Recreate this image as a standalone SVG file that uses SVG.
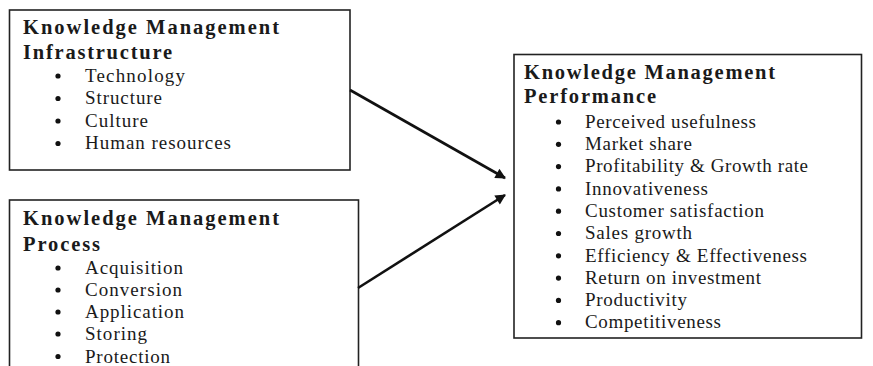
<svg xmlns="http://www.w3.org/2000/svg" width="873" height="366" viewBox="0 0 873 366">
<style>
.box{fill:#fff;stroke:#222;stroke-width:1.6}
.t{font-family:"Liberation Serif","Times New Roman",serif;font-size:20.5px;font-weight:bold;fill:#1a1a1a}
.i{font-family:"Liberation Serif","Times New Roman",serif;font-size:19px;fill:#1a1a1a}
.b{fill:#111}
.c{stroke:#111;stroke-width:2.6;fill:none;marker-end:url(#ah)}
</style>
<defs>
<marker id="ah" viewBox="0 0 10 10" refX="9" refY="5" markerWidth="5" markerHeight="4" orient="auto" markerUnits="strokeWidth">
<path d="M0,0 L10,5 L0,10 z" fill="#111"/>
</marker>
</defs>
<rect width="873" height="366" fill="#fff"/>
<g id="infrastructure">
<rect class="box" x="9.5" y="10" width="340.5" height="160"/>
<text class="t" x="23" y="34.3" textLength="256" lengthAdjust="spacing">Knowledge Management</text>
<text class="t" x="23" y="58.7" textLength="149" lengthAdjust="spacing">Infrastructure</text>
<circle class="b" cx="58" cy="76" r="2.6"/><text class="i" x="85" y="81.7" textLength="100" lengthAdjust="spacing">Technology</text>
<circle class="b" cx="58" cy="98.5" r="2.6"/><text class="i" x="85" y="104.2" textLength="77" lengthAdjust="spacing">Structure</text>
<circle class="b" cx="58" cy="121" r="2.6"/><text class="i" x="85" y="126.7" textLength="63" lengthAdjust="spacing">Culture</text>
<circle class="b" cx="58" cy="143.5" r="2.6"/><text class="i" x="85" y="149.2" textLength="146" lengthAdjust="spacing">Human resources</text>
</g>
<g id="process">
<rect class="box" x="9.5" y="200" width="349" height="175"/>
<text class="t" x="23" y="225" textLength="256" lengthAdjust="spacing">Knowledge Management</text>
<text class="t" x="23" y="250.5" textLength="77" lengthAdjust="spacing">Process</text>
<circle class="b" cx="58" cy="268" r="2.6"/><text class="i" x="85" y="274" textLength="98" lengthAdjust="spacing">Acquisition</text>
<circle class="b" cx="58" cy="290" r="2.6"/><text class="i" x="85" y="296" textLength="97" lengthAdjust="spacing">Conversion</text>
<circle class="b" cx="58" cy="312" r="2.6"/><text class="i" x="85" y="318" textLength="99" lengthAdjust="spacing">Application</text>
<circle class="b" cx="58" cy="334" r="2.6"/><text class="i" x="85" y="340" textLength="62" lengthAdjust="spacing">Storing</text>
<circle class="b" cx="58" cy="356.5" r="2.6"/><text class="i" x="85" y="362.5" textLength="85" lengthAdjust="spacing">Protection</text>
</g>
<g id="performance">
<rect class="box" x="514" y="54.5" width="347.5" height="283.5"/>
<text class="t" x="524" y="79.3" textLength="251" lengthAdjust="spacing">Knowledge Management</text>
<text class="t" x="524" y="103.3" textLength="132" lengthAdjust="spacing">Performance</text>
<circle class="b" cx="558.5" cy="122" r="2.6"/><text class="i" x="585" y="127.7" textLength="171" lengthAdjust="spacing">Perceived usefulness</text>
<circle class="b" cx="558.5" cy="144.3" r="2.6"/><text class="i" x="585" y="150" textLength="107" lengthAdjust="spacing">Market share</text>
<circle class="b" cx="558.5" cy="166.6" r="2.6"/><text class="i" x="585" y="172.3" textLength="223" lengthAdjust="spacing">Profitability &amp; Growth rate</text>
<circle class="b" cx="558.5" cy="188.9" r="2.6"/><text class="i" x="585" y="194.6" textLength="123" lengthAdjust="spacing">Innovativeness</text>
<circle class="b" cx="558.5" cy="211.2" r="2.6"/><text class="i" x="585" y="216.9" textLength="179" lengthAdjust="spacing">Customer satisfaction</text>
<circle class="b" cx="558.5" cy="233.5" r="2.6"/><text class="i" x="585" y="239.2" textLength="107" lengthAdjust="spacing">Sales growth</text>
<circle class="b" cx="558.5" cy="255.8" r="2.6"/><text class="i" x="585" y="261.5" textLength="222" lengthAdjust="spacing">Efficiency &amp; Effectiveness</text>
<circle class="b" cx="558.5" cy="278.1" r="2.6"/><text class="i" x="585" y="283.8" textLength="176" lengthAdjust="spacing">Return on investment</text>
<circle class="b" cx="558.5" cy="300.4" r="2.6"/><text class="i" x="585" y="306.1" textLength="102" lengthAdjust="spacing">Productivity</text>
<circle class="b" cx="558.5" cy="322.7" r="2.6"/><text class="i" x="585" y="328.4" textLength="136" lengthAdjust="spacing">Competitiveness</text>
</g>
<g id="connectors">
<path class="c" d="M350,90 L505,178"/>
<path class="c" d="M358,288 L505,195"/>
</g>
</svg>
